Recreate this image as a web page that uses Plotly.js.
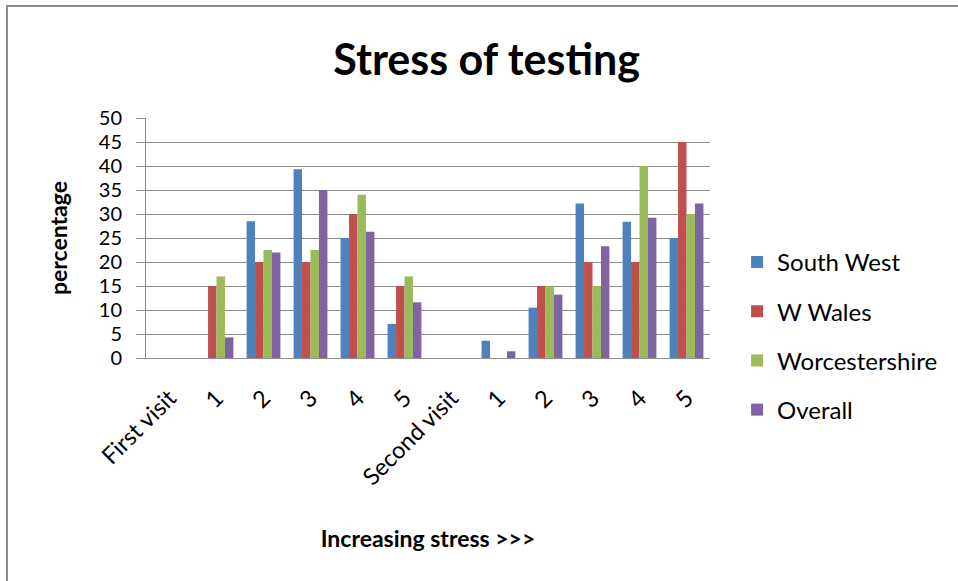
<!DOCTYPE html>
<html>
<head>
<meta charset="utf-8">
<script src="https://cdn.plot.ly/plotly-3.0.1.min.js"></script>
<style>
html,body{margin:0;padding:0;background:#fff;}
#wrap{position:relative;width:958px;height:581px;}
#chart{width:958px;height:581px;}
#frame{position:absolute;left:6px;top:5px;right:0;bottom:0;border-left:2px solid #8c8c8c;border-top:2px solid #8c8c8c;pointer-events:none;}
</style>
</head>
<body>
<div id="wrap"><div id="chart"></div><div id="frame"></div></div>
<script>
var categories = ["First visit","1","2","3","4","5","Second visit","1","2","3","4","5"];
var southWest   = [0, 0,   28.5, 39.3, 25,   7.1, 0, 3.6,  10.5, 32.2, 28.4, 25];
var wWales      = [0, 15,  20,   20,   30,   15,  0, 0,    15,   20,   20,   45];
var worcs       = [0, 17,  22.5, 22.5, 34,   17,  0, 0,    15,   15,   40,   30];
var overall     = [0, 4.3, 22,   35,   26.3, 11.6,0, 1.4,  13.2, 23.3, 29.2, 32.2];
var seriesNames = ["South West","W Wales","Worcestershire","Overall"];
var seriesColors = ["#4F81BD","#C0504D","#9BBB59","#8064A2"];
var seriesValues = [southWest, wWales, worcs, overall];

var xpos = categories.map(function(_, i){ return i; });
var FONT = "Lato, 'Open Sans', sans-serif";

var traces = seriesValues.map(function(vals, k){
  return {
    type: "bar",
    x: xpos,
    y: vals,
    name: seriesNames[k],
    legendgroup: "g" + k,
    marker: {color: seriesColors[k]}
  };
});

var layout = {
  width: 958,
  height: 581,
  margin: {l: 146, r: 248, t: 118, b: 223, pad: 0},
  paper_bgcolor: "#fff",
  plot_bgcolor: "#fff",
  barmode: "group",
  bargap: 0.28,
  bargroupgap: 0,
  font: {family: FONT, color: "#000", size: 22},
  title: {
    text: "<b>Stress of testing</b>",
    font: {family: FONT, size: 43, color: "#000"},
    x: 0.508, xanchor: "center",
    y: 0.897, yanchor: "middle"
  },
  xaxis: {
    range: [-0.5, categories.length - 0.5],
    tickmode: "array",
    tickvals: xpos,
    ticktext: categories,
    tickangle: -45,
    ticks: "",
    ticklabelstandoff: 16,
    showline: true,
    linecolor: "#8c8c8c",
    linewidth: 1,
    showgrid: false,
    zeroline: false,
    tickfont: {family: FONT, size: 23.5, color: "#000"},
    automargin: false,
    title: {text: "<b>Increasing stress >>></b>", font: {family: FONT, size: 23, color: "#000"}, standoff: 41}
  },
  yaxis: {
    range: [0, 50],
    dtick: 5,
    tick0: 0,
    ticks: "outside",
    ticklen: 9,
    tickcolor: "#8c8c8c",
    ticklabelstandoff: 10,
    showline: true,
    linecolor: "#8c8c8c",
    linewidth: 1,
    showgrid: true,
    gridcolor: "#8c8c8c",
    gridwidth: 1,
    zeroline: false,
    tickfont: {family: FONT, size: 20, color: "#000"},
    automargin: false,
    title: {text: "<b>percentage</b>", font: {family: FONT, size: 23, color: "#000"}, standoff: 24}
  },
  legend: {
    x: 1.048, xanchor: "left",
    y: 0.092, yanchor: "middle",
    traceorder: "grouped",
    tracegroupgap: 15,
    font: {family: FONT, size: 24, color: "#000"},
    bgcolor: "rgba(0,0,0,0)"
  },
  showlegend: true
};

Plotly.newPlot("chart", traces, layout, {displayModeBar: false, staticPlot: true});
</script>
</body>
</html>
